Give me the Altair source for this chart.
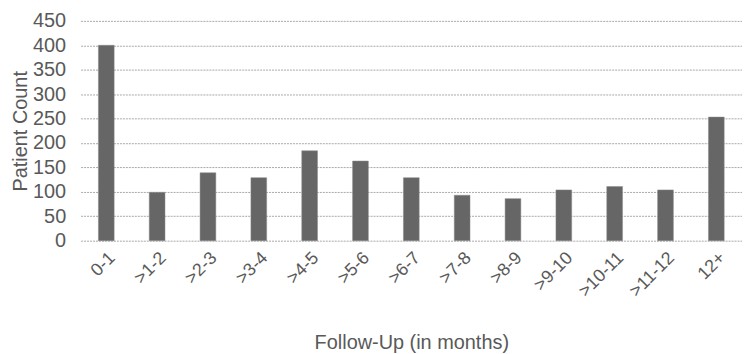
import altair as alt
import pandas as pd

categories = ["0-1", ">1-2", ">2-3", ">3-4", ">4-5", ">5-6", ">6-7", ">7-8", ">8-9", ">9-10", ">10-11", ">11-12", "12+"]
counts = [400, 99, 139, 129, 184, 163, 129, 93, 86, 104, 111, 104, 253]

df = pd.DataFrame({"cat": categories, "count": counts})

txt = "#595959"
chart = alt.Chart(df).mark_bar(color="#666666", stroke="#8a8a8a", strokeWidth=0.5).encode(
    x=alt.X("cat:N", sort=categories, title="Follow-Up (in months)",
            scale=alt.Scale(paddingInner=0.69, paddingOuter=0.35),
            axis=alt.Axis(labelAngle=-45, labelFontSize=18, labelColor=txt, titleColor=txt,
                          titleFontSize=20, titleFontWeight="normal", domain=False, ticks=False,
                          labelPadding=8, titlePadding=33, labelFont="Liberation Sans",
                          titleFont="Liberation Sans")),
    y=alt.Y("count:Q", title="Patient Count",
            scale=alt.Scale(domain=[0, 450]),
            axis=alt.Axis(values=list(range(0, 451, 50)), labelFontSize=20, labelColor=txt,
                          titleColor=txt, titleFontSize=20, titleFontWeight="normal",
                          domain=False, ticks=False, labelPadding=15, titlePadding=2,
                          gridColor="#a8a8a8", gridDash=[2, 1], gridWidth=1,
                          labelFont="Liberation Sans", titleFont="Liberation Sans")),
).properties(
    width=665, height=221,
    autosize=alt.AutoSizeParams(type="none"),
    padding={"left": 73, "top": 12, "right": 0, "bottom": 113},
).configure_view(stroke=None)

chart.save("out.html", embed_options={"renderer": "svg", "actions": False})
